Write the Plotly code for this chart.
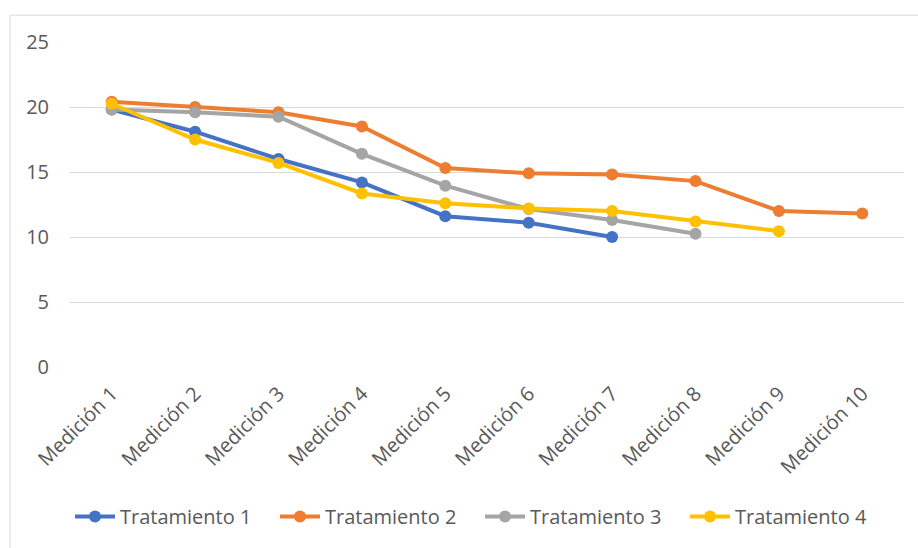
import plotly.graph_objects as go

categories = [f"Medición {i}" for i in range(1, 11)]
series_names = ["Tratamiento 1", "Tratamiento 2", "Tratamiento 3", "Tratamiento 4"]
t1 = [19.8, 18.1, 16.0, 14.2, 11.6, 11.1, 10.0]
t2 = [20.4, 20.0, 19.6, 18.5, 15.3, 14.9, 14.8, 14.3, 12.0, 11.8]
t3 = [19.8, 19.6, 19.25, 16.4, 13.95, 12.15, 11.3, 10.25]
t4 = [20.25, 17.5, 15.7, 13.35, 12.6, 12.2, 12.0, 11.2, 10.45]
y_ticks = [0, 5, 10, 15, 20, 25]

colors = ["#4472C4", "#ED7D31", "#A5A5A5", "#FFC000"]
FONT = "Open Sans"
FS = 20

fig = go.Figure()
for name, vals, col in zip(series_names, [t1, t2, t3, t4], colors):
    fig.add_trace(go.Scatter(
        x=categories[:len(vals)], y=vals, name=name, mode="lines+markers",
        line=dict(color=col, width=4),
        marker=dict(color=col, size=12),
    ))

fig.update_layout(
    width=918, height=548,
    margin=dict(l=70, r=14, t=42, b=179),
    paper_bgcolor="white", plot_bgcolor="white",
    font=dict(family=FONT, size=FS, color="#595959"),
    showlegend=True,
    legend=dict(orientation="h", x=0.0, xanchor="left", y=-0.46, yanchor="middle",
                font=dict(family=FONT, size=FS, color="#595959"),
                itemwidth=40, traceorder="normal", entrywidth=150),
    xaxis=dict(type="category", categoryorder="array", categoryarray=categories,
               range=[-0.5, 9.5], tickangle=-45, showgrid=False, zeroline=False,
               showline=False, ticks="", tickfont=dict(size=FS, color="#595959"),
               ticklabelstandoff=10, automargin=False, fixedrange=True),
    yaxis=dict(range=[0, 25], tickvals=y_ticks, showgrid=True, gridcolor="#d9d9d9",
               gridwidth=1, zeroline=False, showline=False, ticks="",
               tickfont=dict(size=FS, color="#595959"), ticklabelstandoff=20,
               automargin=False, fixedrange=True),
)

fig.add_shape(type="rect", xref="paper", yref="paper",
              x0=-0.0719, x1=1.05, y0=-0.6, y1=1.0826,
              line=dict(color="#d9d9d9", width=1), fillcolor="rgba(0,0,0,0)", layer="below")

fig.write_html("out.html")
